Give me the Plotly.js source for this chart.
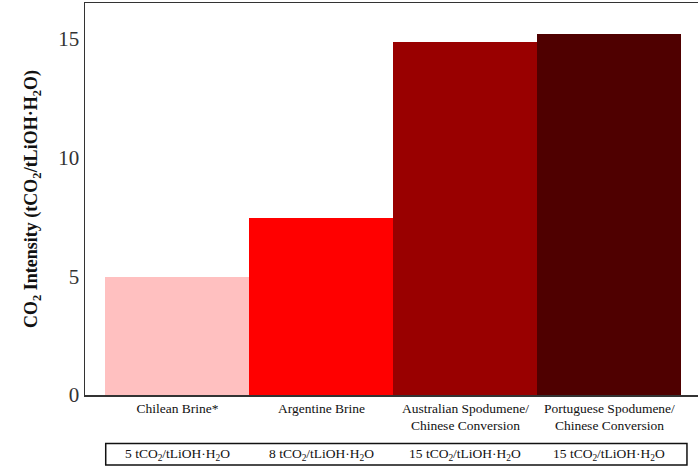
<!DOCTYPE html>
<html>
<head>
<meta charset="utf-8">
<script src="https://cdn.plot.ly/plotly-3.0.1.min.js"></script>
<style>html,body{margin:0;padding:0;background:#fff;}#chart{width:698px;height:466px;}</style>
</head>
<body>
<div id="chart"></div>
<script>
const categories = ["Chilean Brine*", "Argentine Brine", "Australian Spodumene/<br>Chinese Conversion", "Portuguese Spodumene/<br>Chinese Conversion"];
const intensity = [4.98, 7.45, 14.85, 15.2];
const tableLabels = ["5", "8", "15", "15"];
const barColors = ["#FFC0C0", "#FF0000", "#990000", "#4F0000"];
const yTicks = [0, 5, 10, 15];

const serif = "Liberation Serif, Times New Roman, serif";

const trace = {
  type: "bar",
  x: categories,
  y: intensity,
  marker: {color: barColors, line: {width: 0}},
  hoverinfo: "none"
};

const annotations = categories.map((c, i) => ({
  x: c, xref: "x", y: -0.153, yref: "paper",
  text: tableLabels[i] + " tCO<sub>2</sub>/tLiOH·H<sub>2</sub>O",
  showarrow: false, xanchor: "center", yanchor: "middle",
  font: {family: serif, size: 13.5, color: "#111"}
}));

const layout = {
  width: 698, height: 466,
  margin: {l: 85, r: 0, t: 3, b: 71},
  paper_bgcolor: "#fff", plot_bgcolor: "#fff",
  showlegend: false,
  bargap: 0,
  xaxis: {
    type: "category",
    range: [-0.642, 3.615],
    showline: true, mirror: true, linecolor: "#333", linewidth: 1.5,
    showgrid: false, zeroline: false, ticks: "",
    tickfont: {family: serif, size: 13.5, color: "#111"}
  },
  yaxis: {
    range: [0, 16.5],
    tickvals: yTicks,
    ticktext: yTicks.map(String),
    showline: true, linecolor: "#333", linewidth: 1.5,
    showgrid: false, zeroline: false, ticks: "",
    ticklabelstandoff: 0,
    tickfont: {family: serif, size: 21, color: "#333"},
    title: {
      text: "<b>CO<sub>2</sub> Intensity (tCO<sub>2</sub>/tLiOH·H<sub>2</sub>O)</b>",
      font: {family: serif, size: 18, color: "#111"},
      standoff: 16
    }
  },
  shapes: [{
    type: "rect", xref: "paper", yref: "paper",
    x0: 0.0338, x1: 0.982, y0: -0.1788, y1: -0.1239,
    line: {color: "#111", width: 1.5}, fillcolor: "rgba(0,0,0,0)"
  }],
  annotations: annotations
};

Plotly.newPlot("chart", [trace], layout, {staticPlot: true, displayModeBar: false});
</script>
</body>
</html>
